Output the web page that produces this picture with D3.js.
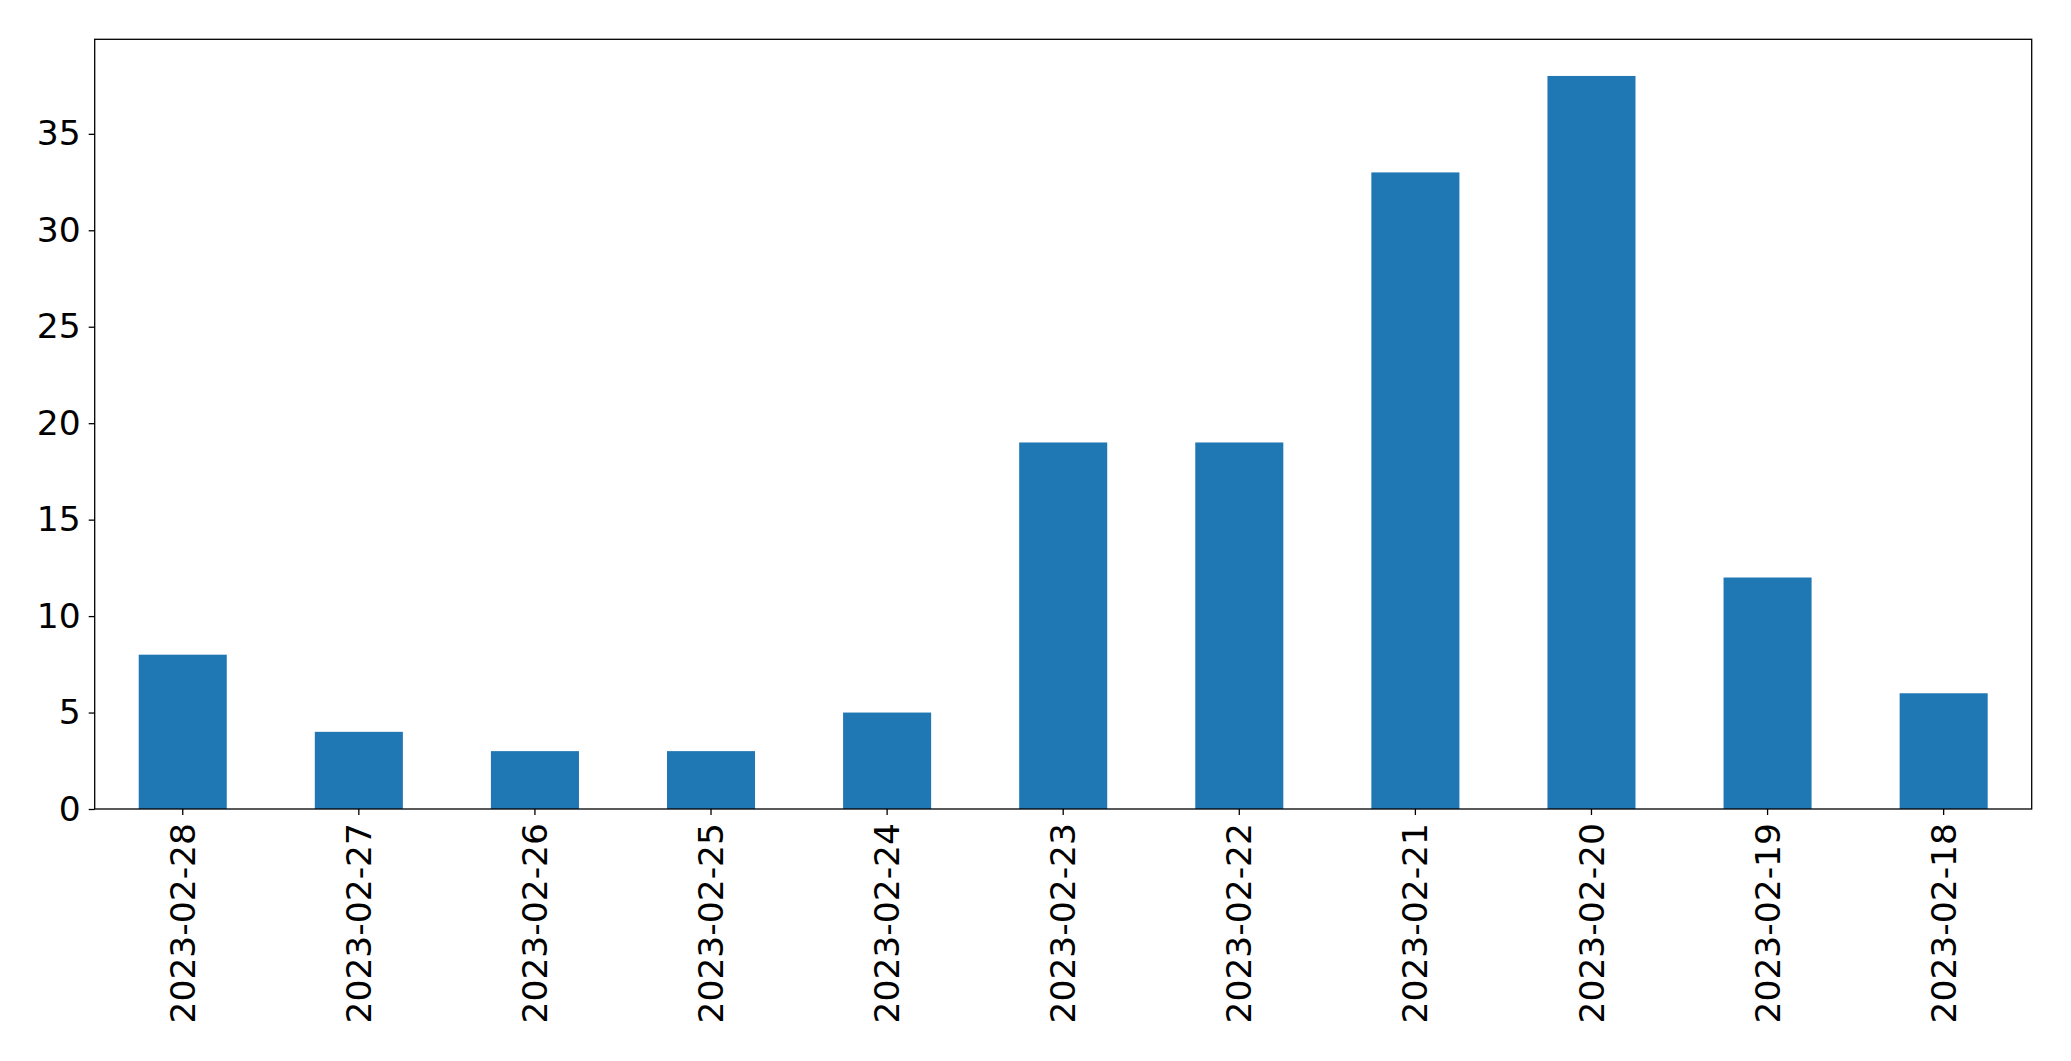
<!DOCTYPE html>
<html>
<head>
<meta charset="utf-8">
<script src="https://cdn.jsdelivr.net/npm/d3@7"></script>
<style>
html,body{margin:0;padding:0;background:#fff;}
svg{display:block;}
</style>
</head>
<body>
<script>
const categories = ["2023-02-28","2023-02-27","2023-02-26","2023-02-25","2023-02-24","2023-02-23","2023-02-22","2023-02-21","2023-02-20","2023-02-19","2023-02-18"];
const values = [8,4,3,3,5,19,19,33,38,12,6];
const yTicks = [0,5,10,15,20,25,30,35];

const W = 2071, H = 1061;
const m = {left: 94.7, right: W - 2031.7, top: 39.3, bottom: H - 809};
const svg = d3.select("body").append("svg").attr("width", W).attr("height", H);

const x = d3.scaleBand().domain(categories).range([m.left, W - m.right]).paddingInner(0.5).paddingOuter(0.25);
const y = d3.scaleLinear().domain([0, d3.max(values) * 1.05]).range([H - m.bottom, m.top]);

svg.append("g").selectAll("rect").data(values).join("rect")
  .attr("x", (d, i) => x(categories[i]))
  .attr("y", d => y(d))
  .attr("width", x.bandwidth())
  .attr("height", d => y(0) - y(d))
  .attr("fill", "#1f77b4");

const font = "'DejaVu Sans', sans-serif";
const fs = 34.5;

const ya = svg.append("g").attr("transform", `translate(${m.left},0)`)
  .call(d3.axisLeft(y).tickValues(yTicks).tickSize(6).tickPadding(8).tickFormat(d3.format("d")));
ya.select(".domain").remove();
ya.selectAll("text").attr("font-family", font).attr("font-size", fs).attr("fill", "#000");
ya.selectAll("line").attr("stroke", "#000").attr("stroke-width", 1.3);

const xa = svg.append("g").attr("transform", `translate(0,${H - m.bottom})`)
  .call(d3.axisBottom(x).tickSize(6).tickPadding(8));
xa.select(".domain").remove();
xa.selectAll("line").attr("stroke", "#000").attr("stroke-width", 1.3);
xa.selectAll("text")
  .attr("font-family", font).attr("font-size", fs).attr("fill", "#000")
  .attr("text-anchor", "end")
  .attr("transform", "rotate(-90)")
  .attr("x", -14).attr("y", 0).attr("dy", "0.35em");

svg.append("rect")
  .attr("x", m.left).attr("y", m.top)
  .attr("width", W - m.left - m.right).attr("height", H - m.top - m.bottom)
  .attr("fill", "none").attr("stroke", "#000").attr("stroke-width", 1.3);
</script>
</body>
</html>
